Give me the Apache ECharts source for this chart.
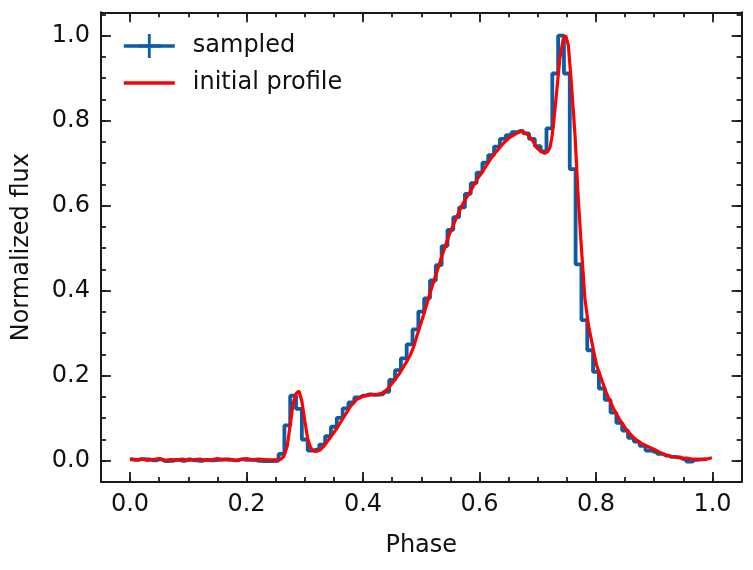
<!DOCTYPE html>
<html><head><meta charset="utf-8">
<script src="https://cdn.jsdelivr.net/npm/echarts@6/dist/echarts.min.js"></script>
<style>html,body{margin:0;padding:0;background:#fff}#c{width:753px;height:570px}</style>
</head><body><div id="c"></div>
<script>
// ---- data ----
const sampledPhase = [
 0.00,0.01,0.02,0.03,0.04,0.05,0.06,0.07,0.08,0.09,
 0.10,0.11,0.12,0.13,0.14,0.15,0.16,0.17,0.18,0.19,
 0.20,0.21,0.22,0.23,0.24,0.25,0.26,0.27,0.28,0.29,
 0.30,0.31,0.32,0.33,0.34,0.35,0.36,0.37,0.38,0.39,
 0.40,0.41,0.42,0.43,0.44,0.45,0.46,0.47,0.48,0.49,
 0.50,0.51,0.52,0.53,0.54,0.55,0.56,0.57,0.58,0.59,
 0.60,0.61,0.62,0.63,0.64,0.65,0.66,0.67,0.68,0.69,
 0.70,0.71,0.72,0.73,0.74,0.75,0.76,0.77,0.78,0.79,
 0.80,0.81,0.82,0.83,0.84,0.85,0.86,0.87,0.88,0.89,
 0.90,0.91,0.92,0.93,0.94,0.95,0.96,0.97,0.98,0.99
];
const sampledFlux = [
 0.003,0.002,0.004,0.003,0.001,0.003,-0.001,0.000,0.002,0.000,
 0.003,0.001,0.000,0.002,0.001,0.002,0.003,0.002,0.001,0.003,
 0.002,0.002,0.000,-0.001,-0.001,0.000,0.016,0.083,0.153,0.122,
 0.050,0.024,0.026,0.038,0.058,0.080,0.101,0.123,0.137,0.149,
 0.153,0.156,0.155,0.156,0.162,0.190,0.213,0.241,0.274,0.309,
 0.351,0.382,0.424,0.460,0.505,0.543,0.573,0.596,0.628,0.653,
 0.678,0.701,0.719,0.739,0.757,0.766,0.773,0.776,0.770,0.757,
 0.740,0.728,0.782,0.911,1.000,0.911,0.686,0.462,0.331,0.260,
 0.209,0.170,0.143,0.113,0.089,0.071,0.054,0.045,0.035,0.024,
 0.021,0.016,0.012,0.009,0.008,0.004,-0.002,0.002,0.003,0.004
];
const profilePhase = [
 0.000,0.010,0.020,0.030,0.040,0.050,0.060,0.070,0.080,0.090,
 0.100,0.110,0.120,0.130,0.140,0.150,0.160,0.170,0.180,0.190,
 0.200,0.210,0.220,0.230,0.240,0.250,0.258,0.264,0.270,0.275,
 0.280,0.285,0.290,0.295,0.300,0.305,0.310,0.315,0.320,0.326,
 0.332,0.343,0.355,0.366,0.378,0.389,0.400,0.412,0.424,0.435,
 0.443,0.452,0.463,0.475,0.481,0.487,0.492,0.504,0.515,0.527,
 0.538,0.549,0.561,0.572,0.584,0.595,0.607,0.618,0.630,0.641,
 0.652,0.664,0.672,0.684,0.690,0.698,0.705,0.712,0.717,0.721,
 0.724,0.727,0.7325,0.738,0.744,0.748,0.7525,0.758,0.764,0.7696,
 0.7754,0.781,0.787,0.7954,0.801,0.810,0.818,0.830,0.841,0.853,
 0.864,0.876,0.890,0.904,0.912,0.921,0.930,0.939,0.947,0.956,
 0.964,0.973,0.981,0.990,0.999
];
const profileFlux = [
 0.004,0.002,0.004,0.001,0.003,0.005,0.001,0.003,0.002,0.004,
 0.001,0.003,0.004,0.001,0.002,0.005,0.002,0.004,0.001,0.003,
 0.005,0.002,0.004,0.003,0.002,0.002,0.003,0.010,0.035,0.085,
 0.134,0.158,0.164,0.140,0.095,0.052,0.031,0.023,0.022,0.025,
 0.033,0.053,0.076,0.100,0.127,0.144,0.152,0.155,0.156,0.160,
 0.170,0.186,0.206,0.233,0.248,0.268,0.291,0.343,0.394,0.445,
 0.492,0.535,0.574,0.606,0.633,0.660,0.684,0.708,0.729,0.747,
 0.761,0.770,0.776,0.766,0.756,0.737,0.728,0.723,0.727,0.737,
 0.758,0.790,0.868,0.947,0.994,1.000,0.978,0.884,0.766,0.617,
 0.492,0.382,0.319,0.262,0.225,0.190,0.159,0.123,0.096,0.072,
 0.055,0.042,0.033,0.024,0.018,0.013,0.010,0.009,0.006,0.006,
 0.004,0.004,0.003,0.004,0.007
];

// ---- chart ----
const FONT = 'DejaVu Sans';
const AX = '#1a1a1a';
const BLUE = '#0C5DA5';
const RED = '#FF0000';
const fmt = v => v.toFixed(1);

function axisBase(kind, pos, major, opts) {
  const a = {
    type: 'value', position: pos, min: -0.05, max: kind === 'x' ? 1.05 : 1.055,
    axisLine: { show: true, onZero: false, lineStyle: { color: AX, width: 2 } },
    axisTick: { show: true, inside: true, length: major ? 10 : 5, lineStyle: { color: AX, width: 1.8 } },
    axisLabel: { show: false },
    splitLine: { show: false },
    minorTick: { show: false }
  };
  if (!major) a.interval = 0.05;
  return Object.assign(a, opts || {});
}
const labelStyle = { fontFamily: FONT, fontSize: 24, color: '#111' };

const chart = echarts.init(document.getElementById('c'), null, { renderer: 'canvas' });
chart.setOption({
  animation: false,
  backgroundColor: '#fff',
  grid: { left: 100.9, right: 11.4, top: 12.3, bottom: 88 },
  legend: {
    orient: 'vertical', left: 117, top: 29, padding: 5,
    itemWidth: 51, itemHeight: 30, itemGap: 13,
    lineStyle: { width: 3.6 },
    textStyle: Object.assign({ padding: [0, 0, 0, 13] }, labelStyle),
    data: ['sampled', 'initial profile']
  },
  xAxis: [
    axisBase('x', 'bottom', true, {
      axisLabel: Object.assign({ show: true, margin: 11, showMinLabel: false, showMaxLabel: false, formatter: fmt }, labelStyle),
      name: 'Phase', nameLocation: 'middle', nameGap: 52, nameTextStyle: labelStyle
    }),
    axisBase('x', 'bottom', false, { axisLine: { show: false, onZero: false } }),
    axisBase('x', 'top', true),
    axisBase('x', 'top', false, { axisLine: { show: false, onZero: false } })
  ],
  yAxis: [
    axisBase('y', 'left', true, {
      axisLabel: Object.assign({ show: true, margin: 11, showMinLabel: false, showMaxLabel: false, formatter: fmt }, labelStyle),
      name: 'Normalized flux', nameLocation: 'middle', nameGap: 67, nameRotate: 90, nameTextStyle: labelStyle
    }),
    axisBase('y', 'left', false, { axisLine: { show: false, onZero: false } }),
    axisBase('y', 'right', true),
    axisBase('y', 'right', false, { axisLine: { show: false, onZero: false } })
  ],
  series: [
    {
      name: 'sampled', type: 'line', xAxisIndex: 0, yAxisIndex: 0,
      data: sampledPhase.map((x, i) => [x, sampledFlux[i]]),
      step: 'middle', showSymbol: false,
      symbol: 'path://M0,10.6H24V13.4H0Z M10.6,0H13.4V24H10.6Z',
      lineStyle: { color: BLUE, width: 3.8 }, itemStyle: { color: BLUE },
      z: 2
    },
    {
      name: 'initial profile', type: 'line', xAxisIndex: 0, yAxisIndex: 0,
      data: profilePhase.map((x, i) => [x, profileFlux[i]]),
      showSymbol: false,
      symbol: 'path://M0,0L0,0Z M0,11H24V13H0Z M24,24L24,24Z',
      lineStyle: { color: RED, width: 3.2 }, itemStyle: { color: RED },
      z: 3
    }
  ]
});
</script>
</body></html>
